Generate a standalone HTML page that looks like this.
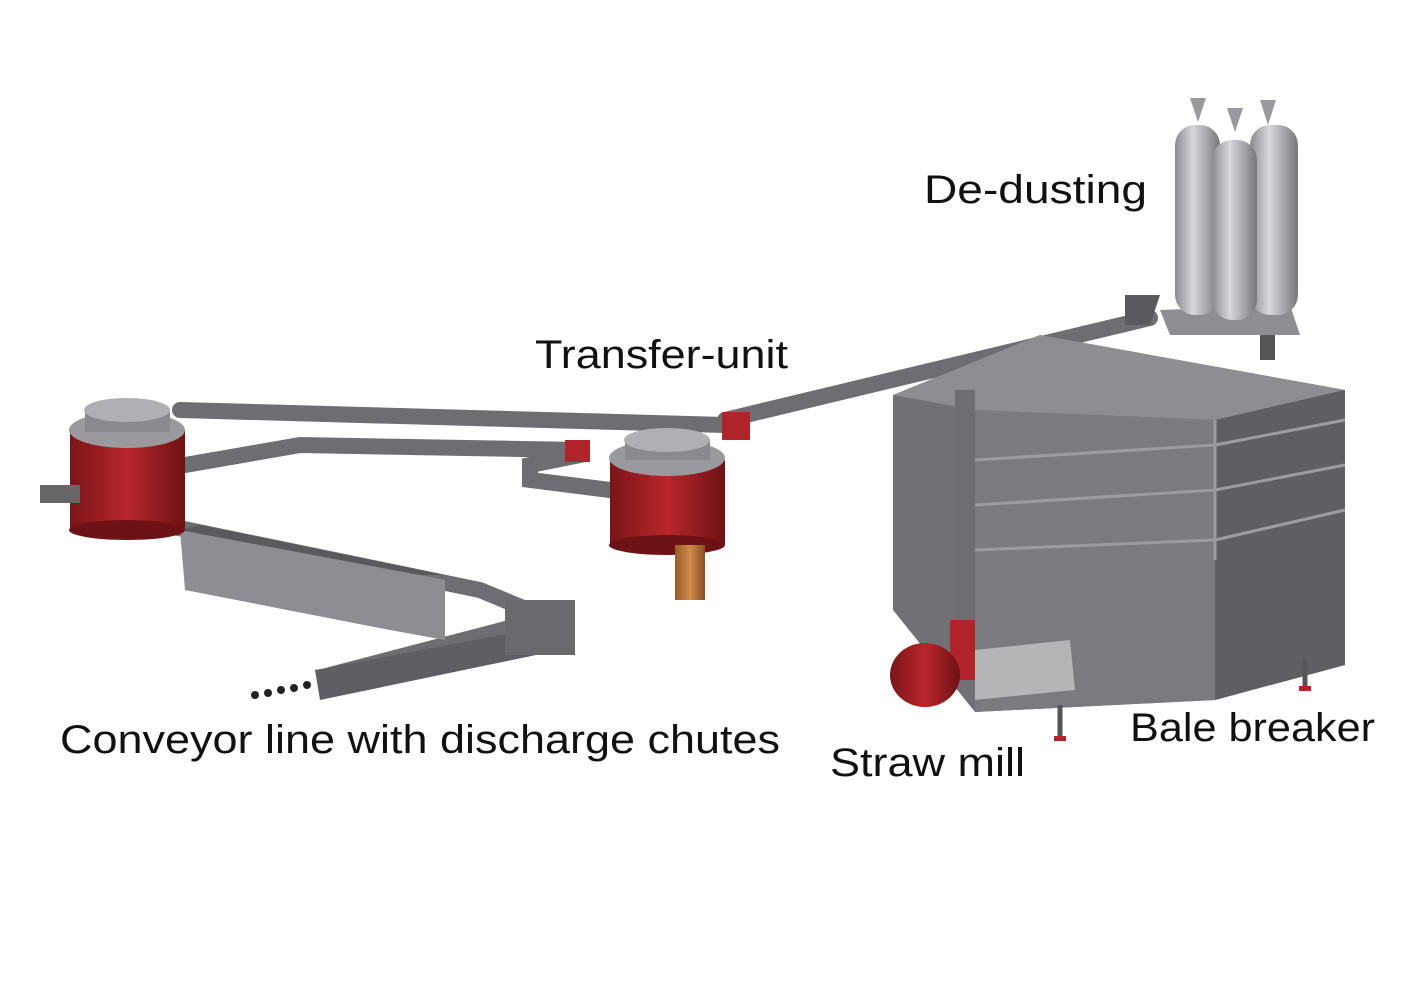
<!DOCTYPE html>
<html><head><meta charset="utf-8"><style>
html,body{margin:0;padding:0;background:#fff;width:1413px;height:1000px;overflow:hidden}
svg{display:block}
text{font-family:"Liberation Sans",sans-serif;fill:#111;font-size:40px}
</style></head><body>
<svg width="1413" height="1000" viewBox="0 0 1413 1000">
<defs>
<linearGradient id="cyl" x1="0" x2="1"><stop offset="0" stop-color="#8c8c90"/><stop offset=".4" stop-color="#d8d8dc"/><stop offset="1" stop-color="#77777b"/></linearGradient>
<linearGradient id="red" x1="0" x2="1"><stop offset="0" stop-color="#7a1518"/><stop offset=".5" stop-color="#b8262b"/><stop offset="1" stop-color="#6d1215"/></linearGradient>
<linearGradient id="brn" x1="0" x2="1"><stop offset="0" stop-color="#9a5a2a"/><stop offset=".5" stop-color="#d08a4a"/><stop offset="1" stop-color="#8a4e22"/></linearGradient>
</defs>
<g stroke="#6d6d72" stroke-width="16" fill="none" stroke-linecap="round">
<path d="M1150 318 L725 420"/>
<path d="M180 410 L725 425"/>
<path d="M185 465 L300 445 L580 450"/>
<path d="M580 455 L530 465 L530 480 L610 490"/>
<path d="M140 520 L480 590 L540 615"/>
<path d="M540 620 L330 675"/>
</g>
<path d="M315 670 L555 625 L560 650 L320 700 Z" fill="#5e5e63"/>
<g fill="#222"><circle cx="255" cy="695" r="4"/><circle cx="268" cy="693" r="4"/><circle cx="281" cy="690" r="4"/><circle cx="294" cy="688" r="4"/><circle cx="307" cy="685" r="4"/></g>
<polygon points="180,530 420,575 445,580 445,640 390,630 185,590" fill="#8e8e92"/>
<polygon points="180,530 420,575 445,575 200,525" fill="#5a5a5e"/>
<rect x="505" y="600" width="70" height="55" fill="#6a6a6e"/>
<rect x="70" y="430" width="115" height="100" fill="url(#red)"/>
<ellipse cx="127" cy="530" rx="58" ry="10" fill="#6d1215"/>
<ellipse cx="127" cy="430" rx="58" ry="18" fill="#9a9a9e"/>
<rect x="85" y="410" width="85" height="22" fill="#8a8a8e"/>
<ellipse cx="127" cy="410" rx="43" ry="12" fill="#b0b0b4"/>
<rect x="40" y="485" width="40" height="18" fill="#666"/>
<rect x="610" y="460" width="115" height="85" fill="url(#red)"/>
<ellipse cx="667" cy="545" rx="58" ry="10" fill="#6d1215"/>
<ellipse cx="667" cy="458" rx="58" ry="18" fill="#9a9a9e"/>
<rect x="625" y="440" width="85" height="20" fill="#8a8a8e"/>
<ellipse cx="667" cy="440" rx="43" ry="12" fill="#b0b0b4"/>
<rect x="675" y="545" width="30" height="55" fill="url(#brn)"/>
<rect x="565" y="440" width="25" height="22" fill="#b0242a"/>
<rect x="722" y="412" width="28" height="28" fill="#b0242a"/>
<polygon points="893,395 1040,335 1345,390 1345,665 1215,700 975,712 893,610" fill="#707075"/>
<polygon points="893,395 1040,335 1345,390 1215,420 975,410" fill="#8d8d92"/>
<polygon points="1215,420 1345,390 1345,665 1215,700" fill="#5e5e63"/>
<polygon points="975,410 1215,420 1215,700 975,712" fill="#7a7a7f"/>
<g stroke="#9c9ca0" stroke-width="3">
<line x1="975" y1="460" x2="1215" y2="445"/><line x1="975" y1="505" x2="1215" y2="490"/><line x1="975" y1="550" x2="1215" y2="540"/>
<line x1="1215" y1="445" x2="1345" y2="420"/><line x1="1215" y1="490" x2="1345" y2="465"/><line x1="1215" y1="540" x2="1345" y2="510"/>
<line x1="1215" y1="420" x2="1215" y2="560"/>
</g>
<g stroke="#555" stroke-width="5"><line x1="1060" y1="705" x2="1060" y2="740"/><line x1="1305" y1="660" x2="1305" y2="690"/></g>
<g fill="#b0242a"><rect x="1054" y="736" width="12" height="5"/><rect x="1299" y="686" width="12" height="5"/></g>
<rect x="955" y="390" width="20" height="250" fill="#6d6d72"/>
<polygon points="975,650 1070,640 1075,690 975,700" fill="#b5b5b8"/>
<rect x="950" y="620" width="25" height="60" fill="#b0242a"/>
<ellipse cx="925" cy="675" rx="35" ry="32" fill="url(#red)"/>
<rect x="1260" y="300" width="15" height="60" fill="#555"/>
<path d="M1125 295 L1160 295 L1150 325 L1125 325Z" fill="#5a5a5e"/>
<polygon points="1160,310 1290,305 1300,335 1170,335" fill="#8d8d92"/>
<g fill="url(#cyl)">
<rect x="1175" y="125" width="45" height="190" rx="20"/>
<rect x="1250" y="125" width="48" height="190" rx="20"/>
<rect x="1212" y="140" width="45" height="180" rx="20"/>
</g>
<g fill="#9a9a9e"><polygon points="1190,98 1206,98 1198,122"/><polygon points="1260,100 1276,100 1268,125"/><polygon points="1227,108 1243,108 1235,132"/></g>
<text x="924" y="203" textLength="223" lengthAdjust="spacingAndGlyphs">De-dusting</text>
<text x="535" y="368" textLength="253" lengthAdjust="spacingAndGlyphs">Transfer-unit</text>
<text x="60" y="753" textLength="720" lengthAdjust="spacingAndGlyphs">Conveyor line with discharge chutes</text>
<text x="830" y="776" textLength="195" lengthAdjust="spacingAndGlyphs">Straw mill</text>
<text x="1130" y="741" textLength="245" lengthAdjust="spacingAndGlyphs">Bale breaker</text>
</svg>
</body></html>
